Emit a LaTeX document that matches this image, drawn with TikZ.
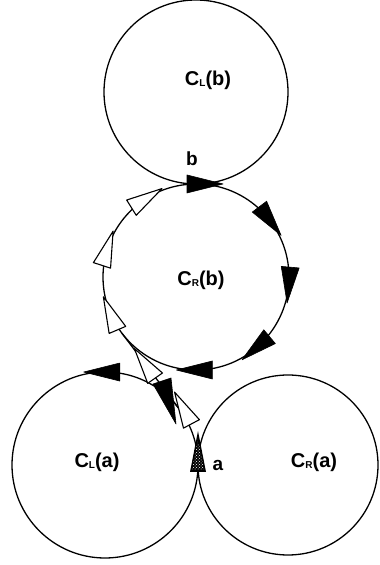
\documentclass[tikz,border=0pt]{standalone}
\usepackage{fontspec}
\setmainfont{Liberation Sans}
\usetikzlibrary{calc,patterns}

% label of a turning circle, e.g. C_L(a)
\newcommand{\lbl}[2]{C\raisebox{-1pt}{\fontsize{10}{10}\selectfont\bfseries #1}(#2)}
% arrowhead of style #1 at point #2, pointing along angle #3
\newcommand{\headat}[3]{\draw[#1, shift={#2}, rotate=#3] (18,0) -- (-18,9) -- (-18,-9) -- cycle;}

\tikzset{
  circ/.style={line width=1.3pt},
  blackhead/.style={fill=black, draw=black, line width=0.6pt, line join=round},
  whitehead/.style={fill=white, draw=black, line width=1.1pt, line join=round},
  lab/.style={font=\fontsize{20}{22}\selectfont\bfseries, inner sep=0pt},
  ptlab/.style={font=\fontsize{19}{21}\selectfont\bfseries, inner sep=0pt},
}

\begin{document}
\begin{tikzpicture}[x=1pt, y=1pt]
\useasboundingbox (0,0) rectangle (380,565);

% circle centres and contact points
\coordinate (cla) at (105,100);
\coordinate (cra) at (288,100);
\coordinate (crb) at (196,288);
\coordinate (clb) at (196,473);
\coordinate (a) at (198,100);
\coordinate (b) at (196,381);
\coordinate (t1) at ($(cla)+(37.1:93)$);
\coordinate (t2) at ($(crb)+(217.1:93)$);

% the four turning circles
\draw[circ] (cla) circle (93pt);
\draw[circ] (cra) circle (90pt);
\draw[circ] (crb) circle (93pt);
\draw[circ] (clb) circle (92pt);

% common tangent from C_L(a) to C_R(b)
\draw[circ] (t1) -- (t2);

% black arrows
\headat{blackhead}{($(b)+(9,0)$)}{0}
\headat{blackhead}{($(crb)+(37:93)$)}{-53}
\headat{blackhead}{($(crb)+(-5:93)$)}{-95}
\headat{blackhead}{($(crb)+(-50:93)$)}{-140}
\headat{blackhead}{($(crb)+(-91:93)$)}{180}
\headat{blackhead}{($(cla)+(92:93)$)}{180}
\draw[blackhead] (176,141) -- (153,181) -- (171,187) -- cycle;

% white arrows
\headat{whitehead}{(183,157)}{118}
\headat{whitehead}{($(t1)!0.6!(t2)$)}{125}
\headat{whitehead}{($(crb)+(203:93)$)}{113}
\headat{whitehead}{($(crb)+(162:93)$)}{72}
\headat{whitehead}{($(crb)+(122:93)$)}{32}

% start heading at a
\fill[black] (198,134) -- (190,93) -- (206,93) -- cycle;
\fill[pattern=crosshatch dots, pattern color=white] (198,126) -- (192,95) -- (204,95) -- cycle;

% labels
\node[lab] (lclb) at (208,485) {\lbl{L}{b}};
\node[lab] (lcrb) at (201,285) {\lbl{R}{b}};
\node[lab] (lcla) at (97,103) {\lbl{L}{a}};
\node[lab] (lcra) at (314,103) {\lbl{R}{a}};
\node[ptlab] (la) at (218,100) {a};
\node[ptlab] (lb) at (192,406) {b};

\end{tikzpicture}
\end{document}
